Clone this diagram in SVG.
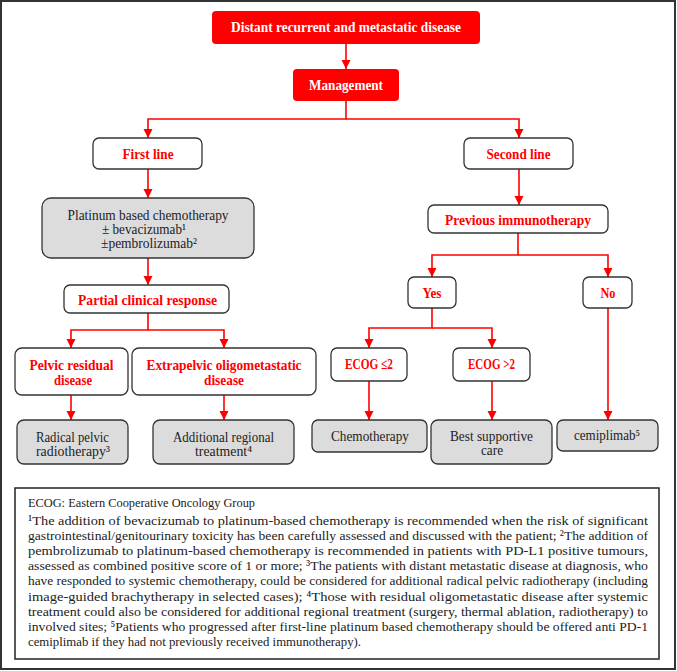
<svg xmlns="http://www.w3.org/2000/svg" width="677" height="671" viewBox="0 0 677 671">
<style>
.red{fill:#ff0000;stroke:none}
.wb{fill:#fff;stroke:#333;stroke-width:1.3}
.gb{fill:#dcdcdc;stroke:#333;stroke-width:1.3}
.t{font-family:"Liberation Serif","DejaVu Serif",serif;font-size:14px;text-anchor:middle;fill:#222}
.rt{font-family:"Liberation Serif","DejaVu Serif",serif;font-size:14.5px;font-weight:bold;text-anchor:middle;fill:#ff0000}
.wt{font-family:"Liberation Serif","DejaVu Serif",serif;font-size:14.5px;font-weight:bold;text-anchor:middle;fill:#fff}
.fn{font-family:"Liberation Serif","DejaVu Serif",serif;font-size:13.5px;fill:#222}
.c{fill:none;stroke:#ff0000;stroke-width:1.6}
</style>
<defs>
<marker id="ah" markerWidth="10" markerHeight="10" refX="9" refY="5" orient="auto" markerUnits="userSpaceOnUse">
<path d="M0,0.5 L9,5 L0,9.5 Z" fill="#ff0000"/>
</marker>
</defs>
<rect x="0" y="0" width="677" height="671" fill="#fff"/>
<rect x="1" y="1" width="674" height="668" fill="none" stroke="#333" stroke-width="2"/>

<g id="connectors">
<path class="c" d="M346,44 V69" marker-end="url(#ah)"/>
<path class="c" d="M346,101 V119 H148 V138" marker-end="url(#ah)"/>
<path class="c" d="M346,119 H519 V138" marker-end="url(#ah)"/>
<path class="c" d="M148,169 V198" marker-end="url(#ah)"/>
<path class="c" d="M148,258 V285" marker-end="url(#ah)"/>
<path class="c" d="M148,313 V330 H71 V348" marker-end="url(#ah)"/>
<path class="c" d="M148,330 H224 V348" marker-end="url(#ah)"/>
<path class="c" d="M71,395 V420" marker-end="url(#ah)"/>
<path class="c" d="M224,395 V420" marker-end="url(#ah)"/>
<path class="c" d="M519,169 V205" marker-end="url(#ah)"/>
<path class="c" d="M518,233 V255 H432 V277" marker-end="url(#ah)"/>
<path class="c" d="M518,255 H608 V277" marker-end="url(#ah)"/>
<path class="c" d="M432,308 V328 H369 V348" marker-end="url(#ah)"/>
<path class="c" d="M432,328 H492 V348" marker-end="url(#ah)"/>
<path class="c" d="M369,381 V420" marker-end="url(#ah)"/>
<path class="c" d="M492,381 V420" marker-end="url(#ah)"/>
<path class="c" d="M608,308 V420" marker-end="url(#ah)"/>
</g>

<g id="n-distant">
<rect class="red" x="212" y="11" width="268" height="33" rx="4"/>
<text class="wt" x="346" y="32" textLength="230" lengthAdjust="spacingAndGlyphs">Distant recurrent and metastatic disease</text>
</g>
<g id="n-management">
<rect class="red" x="293" y="69" width="106" height="32" rx="4"/>
<text class="wt" x="346" y="89.5" textLength="74" lengthAdjust="spacingAndGlyphs">Management</text>
</g>
<g id="n-firstline">
<rect class="wb" x="93" y="138" width="109" height="31" rx="6"/>
<text class="rt" x="148" y="158.5" textLength="51" lengthAdjust="spacingAndGlyphs">First line</text>
</g>
<g id="n-secondline">
<rect class="wb" x="464" y="138" width="109" height="31" rx="6"/>
<text class="rt" x="518.5" y="158.5" textLength="64" lengthAdjust="spacingAndGlyphs">Second line</text>
</g>
<g id="n-platinum">
<rect class="gb" x="42" y="198" width="212" height="60" rx="9"/>
<text class="t" x="148" y="219.5" textLength="161" lengthAdjust="spacingAndGlyphs">Platinum based chemotherapy</text>
<text class="t" x="144" y="233.5" textLength="84" lengthAdjust="spacingAndGlyphs">± bevacizumab¹</text>
<text class="t" x="149" y="247.5" textLength="96" lengthAdjust="spacingAndGlyphs">±pembrolizumab²</text>
</g>
<g id="n-partial">
<rect class="wb" x="64" y="285" width="165" height="28" rx="6"/>
<text class="rt" x="147.5" y="305" textLength="139" lengthAdjust="spacingAndGlyphs">Partial clinical response</text>
</g>
<g id="n-pelvic">
<rect class="wb" x="15" y="348" width="113" height="47" rx="7"/>
<text class="rt" x="71.5" y="370" textLength="84" lengthAdjust="spacingAndGlyphs">Pelvic residual</text>
<text class="rt" x="73" y="384.5" textLength="38" lengthAdjust="spacingAndGlyphs">disease</text>
</g>
<g id="n-extrapelvic">
<rect class="wb" x="132" y="348" width="184" height="47" rx="7"/>
<text class="rt" x="224" y="370" textLength="155" lengthAdjust="spacingAndGlyphs">Extrapelvic oligometastatic</text>
<text class="rt" x="224" y="384.5" textLength="40" lengthAdjust="spacingAndGlyphs">disease</text>
</g>
<g id="n-radical">
<rect class="gb" x="17" y="420" width="111" height="44" rx="7"/>
<text class="t" x="72.5" y="441.5" textLength="73" lengthAdjust="spacingAndGlyphs">Radical pelvic</text>
<text class="t" x="73" y="455.5" textLength="74" lengthAdjust="spacingAndGlyphs">radiotherapy³</text>
</g>
<g id="n-additional">
<rect class="gb" x="153" y="420" width="141" height="44" rx="7"/>
<text class="t" x="223.5" y="441.5" textLength="101" lengthAdjust="spacingAndGlyphs">Additional regional</text>
<text class="t" x="223.5" y="455.5" textLength="57" lengthAdjust="spacingAndGlyphs">treatment⁴</text>
</g>
<g id="n-previous">
<rect class="wb" x="428" y="205" width="180" height="28" rx="6"/>
<text class="rt" x="518" y="224.5" textLength="146" lengthAdjust="spacingAndGlyphs">Previous immunotherapy</text>
</g>
<g id="n-yes">
<rect class="wb" x="408" y="277" width="48" height="31" rx="6"/>
<text class="rt" x="432" y="297.5" textLength="19" lengthAdjust="spacingAndGlyphs">Yes</text>
</g>
<g id="n-no">
<rect class="wb" x="583" y="277" width="49" height="31" rx="6"/>
<text class="rt" x="608" y="297.5" textLength="15" lengthAdjust="spacingAndGlyphs">No</text>
</g>
<g id="n-ecog-le2">
<rect class="wb" x="331" y="348" width="76" height="33" rx="6"/>
<text class="rt" x="369" y="368.5" textLength="48" lengthAdjust="spacingAndGlyphs">ECOG ≤2</text>
</g>
<g id="n-ecog-gt2">
<rect class="wb" x="453" y="348" width="77" height="33" rx="6"/>
<text class="rt" x="491.5" y="368.5" textLength="47" lengthAdjust="spacingAndGlyphs">ECOG &gt;2</text>
</g>
<g id="n-chemo">
<rect class="gb" x="312" y="420" width="115" height="32" rx="6"/>
<text class="t" x="370" y="440.5" textLength="78" lengthAdjust="spacingAndGlyphs">Chemotherapy</text>
</g>
<g id="n-bsc">
<rect class="gb" x="431" y="420" width="121" height="44" rx="7"/>
<text class="t" x="491.5" y="440.5" textLength="83" lengthAdjust="spacingAndGlyphs">Best supportive</text>
<text class="t" x="492" y="454.5" textLength="22" lengthAdjust="spacingAndGlyphs">care</text>
</g>
<g id="n-cemiplimab">
<rect class="gb" x="557" y="420" width="101" height="31" rx="6"/>
<text class="t" x="607" y="440" textLength="66" lengthAdjust="spacingAndGlyphs">cemiplimab⁵</text>
</g>

<g id="footnote">
<rect x="15" y="488" width="644" height="171" fill="#fff" stroke="#222" stroke-width="1.5"/>
<text class="fn" x="28" y="507" textLength="227" lengthAdjust="spacingAndGlyphs">ECOG: Eastern Cooperative Oncology Group</text>
<text class="fn" x="28" y="525" textLength="620" lengthAdjust="spacingAndGlyphs">¹The addition of bevacizumab to platinum-based chemotherapy is recommended when the risk of significant</text>
<text class="fn" x="28" y="540.1" textLength="620" lengthAdjust="spacingAndGlyphs">gastrointestinal/genitourinary toxicity has been carefully assessed and discussed with the patient; ²The addition of</text>
<text class="fn" x="28" y="555.2" textLength="620" lengthAdjust="spacingAndGlyphs">pembrolizumab to platinum-based chemotherapy is recommended in patients with PD-L1 positive tumours,</text>
<text class="fn" x="28" y="570.3" textLength="620" lengthAdjust="spacingAndGlyphs">assessed as combined positive score of 1 or more; ³The patients with distant metastatic disease at diagnosis, who</text>
<text class="fn" x="28" y="585.4" textLength="620" lengthAdjust="spacingAndGlyphs">have responded to systemic chemotherapy, could be considered for additional radical pelvic radiotherapy (including</text>
<text class="fn" x="28" y="600.5" textLength="620" lengthAdjust="spacingAndGlyphs">image-guided brachytherapy in selected cases); ⁴Those with residual oligometastatic disease after systemic</text>
<text class="fn" x="28" y="615.6" textLength="620" lengthAdjust="spacingAndGlyphs">treatment could also be considered for additional regional treatment (surgery, thermal ablation, radiotherapy) to</text>
<text class="fn" x="28" y="630.7" textLength="620" lengthAdjust="spacingAndGlyphs">involved sites; ⁵Patients who progressed after first-line platinum based chemotherapy should be offered anti PD-1</text>
<text class="fn" x="28" y="645.8" textLength="333" lengthAdjust="spacingAndGlyphs">cemiplimab if they had not previously received immunotherapy).</text>
</g>
</svg>
